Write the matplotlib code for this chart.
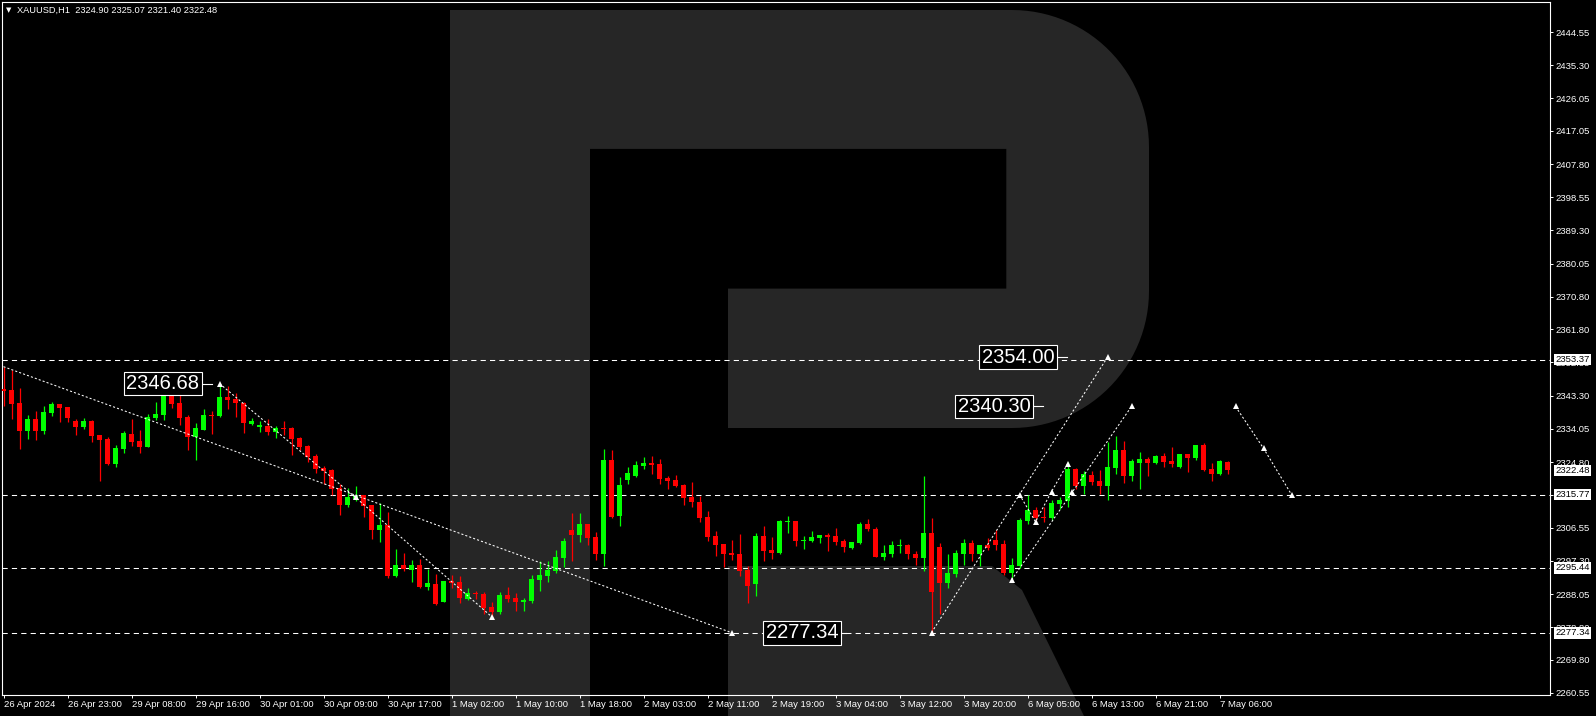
import matplotlib
matplotlib.use('Agg')
import matplotlib.pyplot as plt
from matplotlib.patches import Polygon, Rectangle
from matplotlib import font_manager
import numpy as np

# ---- XAUUSD H1 candles
opens = [2345.16, 2344.88, 2341.35, 2333.56, 2336.81, 2333.56, 2338.57, 2340.98, 2340.15, 2336.25,
         2334.58, 2336.25, 2332.35, 2331.24, 2324.28, 2328.46, 2332.63, 2330.68, 2329.01, 2337.08,
         2337.92, 2343.49, 2341.26, 2337.36, 2331.80, 2333.74, 2337.92, 2337.64, 2342.93, 2342.37,
         2341.26, 2335.42, 2334.70, 2334.95, 2333.28, 2334.40, 2334.30, 2331.52, 2329.29, 2326.51,
         2323.17, 2322.61, 2317.60, 2312.87, 2314.50, 2315.65, 2312.87, 2305.91, 2307.30, 2293.10,
         2296.16, 2294.77, 2296.16, 2290.04, 2290.87, 2285.86, 2291.71, 2291.43, 2286.70, 2288.40,
         2288.09, 2284.47, 2283.08, 2287.81, 2287.07, 2285.96, 2286.14, 2291.99, 2293.10, 2294.50,
         2298.11, 2305.91, 2304.52, 2307.58, 2303.96, 2299.23, 2325.40, 2309.81, 2319.83, 2320.94,
         2323.73, 2324.56, 2324.28, 2320.39, 2319.83, 2318.44, 2315.10, 2313.70, 2309.53, 2304.24,
         2302.01, 2299.51, 2299.23, 2294.77, 2290.87, 2304.24, 2300.34, 2299.51, 2308.00, 2308.41,
         2302.94, 2302.85, 2303.68, 2304.52, 2304.24, 2302.85, 2300.90, 2302.29, 2307.58, 2306.19,
         2298.39, 2299.23, 2301.50, 2301.73, 2299.23, 2298.11, 2305.07, 2301.17, 2291.15, 2293.66,
         2299.23, 2302.29, 2299.23, 2301.73, 2303.12, 2302.01, 2293.94, 2295.89, 2308.41, 2311.48,
         2309.60, 2309.25, 2313.26, 2313.98, 2322.89, 2318.16, 2321.22, 2319.55, 2318.16, 2323.17,
         2328.18, 2320.94, 2324.49, 2325.68, 2324.56, 2326.51, 2325.12, 2323.45, 2327.07, 2325.96,
         2329.57, 2322.89, 2321.50, 2324.90]
highs = [2351.38, 2350.45, 2345.44, 2337.92, 2339.03, 2340.43, 2341.54, 2341.00, 2340.15, 2336.81,
         2337.08, 2336.53, 2332.35, 2331.80, 2329.57, 2333.47, 2336.81, 2333.74, 2338.20, 2341.54,
         2344.88, 2344.42, 2343.49, 2337.92, 2335.69, 2339.59, 2339.03, 2346.68, 2345.90, 2344.05,
         2341.54, 2337.00, 2336.25, 2336.70, 2334.86, 2336.25, 2334.49, 2331.89, 2329.57, 2327.06,
         2323.72, 2322.89, 2318.71, 2317.60, 2318.16, 2315.65, 2312.87, 2313.42, 2310.92, 2300.62,
         2299.50, 2297.55, 2297.83, 2295.05, 2293.66, 2291.80, 2293.38, 2293.10, 2289.76, 2288.92,
         2288.65, 2285.86, 2288.56, 2290.04, 2288.37, 2287.07, 2293.38, 2297.28, 2297.28, 2300.34,
         2303.68, 2310.64, 2310.64, 2307.58, 2305.35, 2328.46, 2328.18, 2320.67, 2323.45, 2325.12,
         2326.23, 2326.51, 2325.68, 2320.94, 2321.22, 2318.72, 2319.27, 2315.38, 2311.20, 2305.63,
         2302.10, 2303.12, 2304.80, 2295.89, 2305.07, 2307.02, 2303.96, 2308.69, 2309.81, 2308.41,
         2304.24, 2305.63, 2304.52, 2305.07, 2306.46, 2303.40, 2302.57, 2308.14, 2308.97, 2306.74,
         2301.73, 2302.85, 2303.40, 2302.01, 2300.06, 2320.94, 2309.25, 2302.29, 2299.23, 2300.34,
         2303.40, 2303.12, 2301.73, 2303.68, 2305.91, 2303.12, 2298.11, 2309.25, 2315.65, 2312.31,
         2312.31, 2314.26, 2315.10, 2324.84, 2323.17, 2322.33, 2322.33, 2322.61, 2330.41, 2332.08,
         2330.69, 2325.68, 2327.63, 2326.23, 2326.79, 2327.35, 2329.01, 2327.07, 2327.07, 2329.57,
         2330.13, 2324.56, 2325.40, 2325.07]
lows = [2340.52, 2336.81, 2328.55, 2331.24, 2330.96, 2332.63, 2337.73, 2336.06, 2336.06, 2332.45,
        2333.93, 2330.50, 2319.64, 2324.09, 2323.54, 2327.43, 2329.29, 2327.43, 2329.01, 2336.53,
        2336.53, 2339.87, 2335.14, 2328.18, 2325.39, 2333.74, 2332.63, 2337.46, 2339.59, 2337.46,
        2333.00, 2335.14, 2333.28, 2332.35, 2331.52, 2332.35, 2326.79, 2328.18, 2324.84, 2321.87,
        2318.71, 2315.65, 2310.08, 2312.31, 2313.90, 2309.53, 2303.40, 2302.57, 2292.54, 2292.82,
        2294.49, 2291.43, 2289.76, 2289.20, 2285.02, 2285.80, 2289.76, 2285.58, 2286.42, 2286.70,
        2282.52, 2281.80, 2282.52, 2285.96, 2283.36, 2283.36, 2285.58, 2288.93, 2291.43, 2294.03,
        2295.61, 2297.28, 2302.57, 2301.73, 2297.56, 2295.89, 2309.30, 2307.02, 2318.72, 2320.66,
        2322.89, 2321.50, 2318.72, 2317.32, 2317.88, 2312.87, 2312.31, 2308.14, 2302.85, 2298.67,
        2295.61, 2297.56, 2293.10, 2285.58, 2287.53, 2297.28, 2297.83, 2299.23, 2305.07, 2301.45,
        2300.62, 2302.57, 2302.29, 2300.06, 2301.73, 2299.78, 2300.62, 2302.01, 2305.63, 2298.39,
        2297.56, 2298.39, 2299.51, 2297.83, 2296.16, 2294.50, 2277.34, 2282.52, 2289.76, 2292.82,
        2296.16, 2297.28, 2295.89, 2300.34, 2300.34, 2293.38, 2292.40, 2295.24, 2307.58, 2308.69,
        2308.14, 2308.69, 2311.75, 2312.31, 2317.32, 2315.93, 2318.44, 2315.93, 2314.26, 2321.50,
        2319.00, 2319.55, 2317.32, 2320.94, 2324.28, 2323.45, 2323.45, 2323.17, 2322.06, 2325.40,
        2322.33, 2319.55, 2321.22, 2321.40]
closes = [2344.69, 2341.08, 2333.56, 2336.81, 2333.56, 2338.76, 2340.98, 2339.96, 2337.18, 2334.67,
          2336.25, 2332.17, 2331.05, 2324.28, 2328.83, 2332.91, 2330.50, 2329.01, 2337.46, 2338.20,
          2343.49, 2340.98, 2337.08, 2331.80, 2334.30, 2337.92, 2337.64, 2342.93, 2342.10, 2341.26,
          2335.69, 2336.25, 2334.90, 2333.28, 2334.30, 2334.10, 2331.24, 2329.01, 2326.23, 2322.89,
          2322.33, 2317.32, 2312.87, 2315.09, 2315.30, 2312.59, 2305.91, 2307.30, 2293.10, 2296.16,
          2295.05, 2296.16, 2290.04, 2291.15, 2285.30, 2291.71, 2291.15, 2286.98, 2288.37, 2288.10,
          2284.19, 2283.08, 2287.81, 2286.79, 2285.87, 2286.42, 2292.27, 2293.38, 2294.77, 2298.39,
          2302.85, 2304.52, 2307.58, 2303.68, 2299.23, 2325.40, 2309.53, 2318.44, 2321.83, 2324.01,
          2324.56, 2324.01, 2320.11, 2319.55, 2318.16, 2314.82, 2313.70, 2309.25, 2303.96, 2301.73,
          2299.23, 2298.95, 2294.50, 2290.32, 2304.24, 2300.06, 2299.51, 2308.41, 2308.40, 2302.85,
          2303.22, 2303.96, 2304.52, 2303.96, 2302.57, 2301.17, 2302.57, 2307.58, 2306.19, 2298.39,
          2299.51, 2301.73, 2301.73, 2299.23, 2298.11, 2305.07, 2288.65, 2291.15, 2293.94, 2299.51,
          2302.29, 2299.23, 2301.73, 2300.90, 2301.73, 2293.94, 2296.16, 2308.69, 2311.48, 2309.25,
          2309.30, 2313.42, 2314.26, 2322.89, 2318.16, 2321.50, 2319.27, 2318.16, 2323.45, 2328.18,
          2320.94, 2325.12, 2325.68, 2324.56, 2326.51, 2324.84, 2324.28, 2327.07, 2325.96, 2329.57,
          2322.61, 2321.50, 2325.12, 2322.48]

time_labels = ['26 Apr 2024', '26 Apr 23:00', '29 Apr 08:00', '29 Apr 16:00', '30 Apr 01:00',
               '30 Apr 09:00', '30 Apr 17:00', '1 May 02:00', '1 May 10:00', '1 May 18:00',
               '2 May 03:00', '2 May 11:00', '2 May 19:00', '3 May 04:00', '3 May 12:00',
               '3 May 20:00', '6 May 05:00', '6 May 13:00', '6 May 21:00', '7 May 06:00']
price_ticks = [2444.55, 2435.30, 2426.05, 2417.05, 2407.80, 2398.55, 2389.30, 2380.05, 2370.80,
               2361.80, 2352.55, 2343.30, 2334.05, 2324.80, 2315.55, 2306.55, 2297.30, 2288.05,
               2278.80, 2269.80, 2260.55]
levels = [2353.37, 2315.77, 2295.44, 2277.34]
price_tags = [2353.37, 2322.48, 2315.77, 2295.44, 2277.34]

# analyst's wave lines: (bar, price)
wave_lines = [
    [(0, 2351.38), (91, 2277.34)],
    [(27, 2346.68), (44, 2315.00), (61, 2281.80)],
    [(116, 2277.34), (127, 2315.77), (138, 2354.00)],
    [(126, 2292.00), (141, 2340.30)],
    [(127, 2315.77), (129, 2308.20), (131, 2316.60), (133, 2324.30)],
    [(154, 2340.30), (157.5, 2328.65), (161, 2315.77)],
]
marks = [(27, 2346.68), (44, 2315.00), (61, 2281.80), (91, 2277.34), (116, 2277.34),
         (127, 2315.77), (129, 2308.20), (131, 2316.60), (133, 2324.30), (133.5, 2316.56),
         (126, 2292.00), (138, 2354.00), (141, 2340.30), (154, 2340.30), (157.5, 2328.65),
         (161, 2315.77)]
callouts = [('2346.68', 2346.68, 24.8, 26.0), ('2277.34', 2277.34, 104.7, 105.3),
            ('2354.00', 2354.00, 131.7, 132.9), ('2340.30', 2340.30, 128.7, 129.9)]

BULL = '#00ff00'
BEAR = '#ff0000'
WM = '#262626'

names = {f.name for f in font_manager.fontManager.ttflist}
if 'Liberation Sans Narrow' in names:
    tag_font, tag_size = 'Liberation Sans Narrow', 17
else:
    tag_font, tag_size = 'Liberation Sans', 14.5

plt.rcParams['font.family'] = ['Liberation Sans', 'DejaVu Sans']

W, H = 1596, 716
fig = plt.figure(figsize=(W / 100, H / 100), dpi=100, facecolor='black')

#---- background: watermark in pixel coords
bg = fig.add_axes([0, 0, 1, 1], zorder=0)
bg.set_xlim(0, W)
bg.set_ylim(H, 0)
bg.axis('off')
bg.set_facecolor('black')
bg.add_patch(Rectangle((450, 10), 139.7, 706, color=WM, lw=0))
t1 = np.linspace(np.pi / 2, 0, 30)
t2 = np.linspace(0, -np.pi / 2, 30)
bowl = [(589.7, 10)]
bowl += [(1012 + 137 * np.cos(t), 147 - 137 * np.sin(t)) for t in t1]
bowl += [(1012 + 137 * np.cos(t), 291 - 137 * np.sin(t)) for t in t2]
bowl += [(728, 428), (728, 288.6), (1006.3, 288.6), (1006.3, 148.9), (589.7, 148.9)]
bg.add_patch(Polygon(bowl, closed=True, color=WM, lw=0))
bg.add_patch(Polygon([(728, 566), (992, 566), (1022, 590), (1084, 716), (728, 716)],
                     closed=True, color=WM, lw=0))
bg.text(6, 10.5, '\u25bc', color='white', fontsize=5, family='DejaVu Sans', va='center')
bg.text(17, 10.5, 'XAUUSD,H1  2324.90 2325.07 2321.40 2322.48', color='white',
        fontsize=6.7, va='center')

#---- chart axes
x0, x1, y0, y1 = 2.3, 1550.3, 2.3, 695
ax = fig.add_axes([x0 / W, 1 - y1 / H, (x1 - x0) / W, (y1 - y0) / H], zorder=1)
ax.set_facecolor('none')
ax.set_xlim(-0.15, 193.35)
ax.set_ylim(2259.97, 2452.82)

idx = np.arange(len(opens))
o = np.array(opens); c = np.array(closes)
cols = np.where(c >= o, BULL, BEAR)
ax.vlines(idx, lows, highs, colors=cols, lw=0.9, zorder=3)
ax.bar(idx, np.maximum(np.abs(c - o), 0.3), bottom=np.minimum(o, c), width=0.625,
       color=cols, lw=0, zorder=3)

for lv in levels:
    ax.axhline(lv, color='white', lw=0.75, ls=(0, (5, 4)), zorder=2)

for pts in wave_lines:
    xs, ys = zip(*pts)
    ax.plot(xs, ys, color='white', lw=0.75, ls=(0, (2, 2)), zorder=4)
mx, my = zip(*marks)
ax.plot(mx, my, ls='none', marker='^', ms=4, color='white', mew=0, zorder=5)

for txt, p, xs_, xe_ in callouts:
    ax.plot([xs_, xe_], [p, p], color='white', lw=0.8, zorder=5)
    ax.text(xs_ - 0.35, p, txt, ha='right', va='center', color='white', family=tag_font,
            fontsize=tag_size, zorder=6,
            bbox=dict(boxstyle='square,pad=0.12', fc='black', ec='white', lw=0.8))

for s in ax.spines.values():
    s.set_color('white')
    s.set_linewidth(0.8)

ax.set_xticks(np.arange(0, 8 * len(time_labels), 8))
ax.set_xticklabels(time_labels, ha='left')
ax.yaxis.tick_right()
ax.set_yticks(price_ticks)
ax.set_yticklabels([f'{v:.2f}' for v in price_ticks])
ax.tick_params(axis='x', colors='white', length=2.5, width=0.7, pad=1, labelsize=6.8)
ax.tick_params(axis='y', colors='white', length=2.2, width=0.7, pad=1.6, labelsize=6.8)

for p in price_tags:
    ax.text(1.0032, p, f'{p:.2f}', transform=ax.get_yaxis_transform(), ha='left', va='center',
            color='black', fontsize=6.8, clip_on=False, zorder=7,
            bbox=dict(boxstyle='square,pad=0.15', fc='white', ec='none'))

fig.savefig('out.png', dpi=100, facecolor='black')
